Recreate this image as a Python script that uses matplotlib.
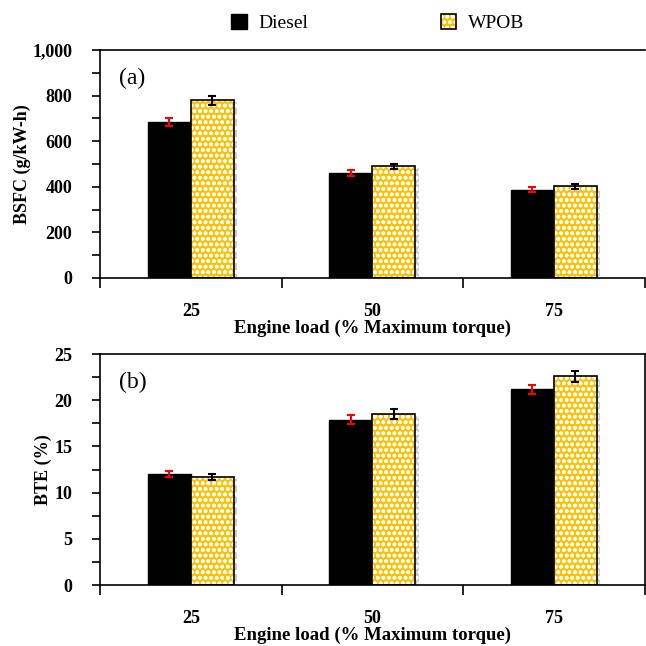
import numpy as np
import matplotlib.pyplot as plt
import matplotlib.patheffects as pe
from matplotlib.patches import Patch

plt.rcParams['font.family'] = ['Liberation Serif', 'DejaVu Serif']
plt.rcParams['hatch.linewidth'] = 1.1

loads = ['25', '50', '75']

bsfc_diesel = [685, 460, 388]
bsfc_diesel_err = [18, 13, 12]
bsfc_wpob = [780, 490, 402]
bsfc_wpob_err = [20, 12, 12]

bte_diesel = [12.0, 17.9, 21.2]
bte_diesel_err = [0.35, 0.5, 0.5]
bte_wpob = [11.7, 18.5, 22.6]
bte_wpob_err = [0.35, 0.5, 0.6]

gold = '#FFC000'
shadow = [pe.SimplePatchShadow(offset=(2.5, -1.5), shadow_rgbFace='0.6', alpha=0.5), pe.Normal()]


def draw_panel(ax, diesel, diesel_err, wpob, wpob_err, ymax, ystep, label, ylabel, fmt, ylabelpad):
    x = np.arange(len(loads))
    w = 0.237
    ax.bar(x - w / 2, diesel, w, color='black', edgecolor='black', linewidth=1,
           path_effects=shadow, zorder=2)
    ax.bar(x + w / 2, wpob, w, color=gold, edgecolor='white', hatch='ooo', linewidth=0,
           path_effects=shadow, zorder=2)
    ax.bar(x + w / 2, wpob, w, color='none', edgecolor='black', linewidth=1.2, zorder=3)
    ax.errorbar(x - w / 2, diesel, yerr=diesel_err, fmt='none', ecolor='red',
                elinewidth=1.5, capsize=3, capthick=1.5, zorder=4)
    ax.errorbar(x + w / 2, wpob, yerr=wpob_err, fmt='none', ecolor='black',
                elinewidth=1.5, capsize=3, capthick=1.5, zorder=4)

    ax.set_xlim(-0.5, 2.5)
    ax.set_ylim(0, ymax)
    ax.set_yticks(np.arange(0, ymax + 1, ystep))
    ax.set_yticks(np.arange(ystep / 2, ymax, ystep), minor=True)
    ax.set_yticklabels([fmt.format(v) for v in np.arange(0, ymax + 1, ystep)])

    ax.set_xticks([-0.5, 0.5, 1.5, 2.5])
    ax.set_xticklabels([])
    ax.set_xticks(x, minor=True)
    ax.set_xticklabels(loads, minor=True)
    ax.tick_params(axis='x', which='major', direction='out', length=7, width=1.2)
    ax.tick_params(axis='x', which='minor', length=0, pad=18, labelsize=13)
    ax.tick_params(axis='y', which='both', direction='out', length=6, width=1.2,
                   labelsize=13, pad=14)
    for t in ax.get_xticklabels(minor=True) + ax.get_yticklabels():
        t.set_fontweight('bold')

    for s in ax.spines.values():
        s.set_linewidth(1.2)

    ax.set_xlabel('Engine load (% Maximum torque)', fontsize=13.5, fontweight='bold', labelpad=0)
    ax.set_ylabel(ylabel, fontsize=13, fontweight='bold', labelpad=ylabelpad)
    ax.text(0.035, 0.875, label, transform=ax.transAxes, fontsize=17, va='center')


fig = plt.figure(figsize=(6.46, 6.46), dpi=100)
ax1 = fig.add_axes([0.155, 0.5697, 0.843, 0.3529])
ax2 = fig.add_axes([0.155, 0.0944, 0.843, 0.3576])

draw_panel(ax1, bsfc_diesel, bsfc_diesel_err, bsfc_wpob, bsfc_wpob_err,
           1000, 200, '(a)', 'BSFC (g/kW-h)', '{:,.0f}', 1)
ax1.spines['right'].set_visible(False)

draw_panel(ax2, bte_diesel, bte_diesel_err, bte_wpob, bte_wpob_err,
           25, 5, '(b)', 'BTE (%)', '{:.0f}', 2)

h_diesel = Patch(facecolor='black', edgecolor='black')
h_wpob = (Patch(facecolor=gold, edgecolor='white', hatch='ooo', linewidth=0),
          Patch(facecolor='none', edgecolor='black', linewidth=1.2))
fig.legend([h_diesel, h_wpob], ['Diesel', 'WPOB'], loc='center',
           bbox_to_anchor=(0.585, 0.964), ncol=2, frameon=False, fontsize=14,
           columnspacing=6.8, handlelength=0.8, handleheight=0.8, handletextpad=0.6)

fig.savefig('out.png', dpi=100, facecolor='white')
